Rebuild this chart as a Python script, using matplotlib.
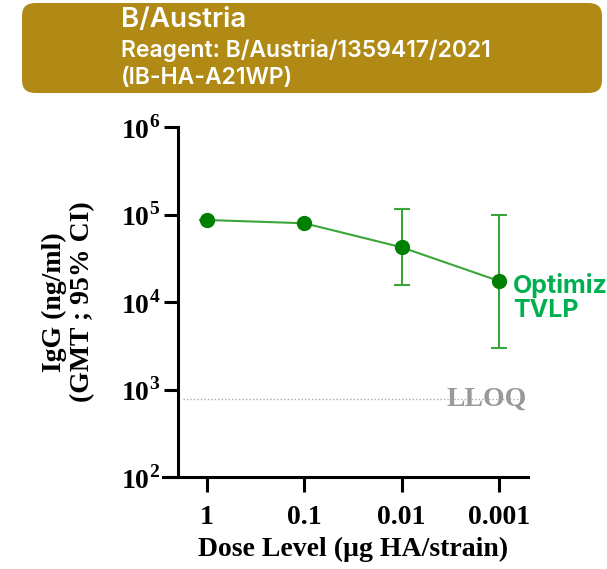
import numpy as np
import matplotlib.pyplot as plt
from matplotlib.patches import FancyBboxPatch

# Data
dose_labels = ['1', '0.1', '0.01', '0.001']
gmt = [86500, 79400, 42200, 17400]
ci_low = [86500, 79400, 15600, 3000]
ci_high = [86500, 79400, 115000, 99500]
lloq = 780
series_name = 'Optimiz\nTVLP'

plt.rcParams['mathtext.fontset'] = 'custom'
plt.rcParams['mathtext.rm'] = 'Liberation Serif:bold'
plt.rcParams['mathtext.bf'] = 'Liberation Serif:bold'

serif = {'family': 'Liberation Serif', 'weight': 'bold'}

fig = plt.figure(figsize=(6.07, 5.69), dpi=100)

# Header banner
box = FancyBboxPatch((22 / 607, 1 - 93 / 569), 580 / 607, 90 / 569,
                     boxstyle='round,pad=0,rounding_size=0.022',
                     transform=fig.transFigure, facecolor='#B08A14',
                     edgecolor='none')
fig.patches.append(box)
fig.text(121 / 607, 1 - 20 / 569, 'B/Austria', color='white', fontsize=20,
         family='Inter', weight='semibold', va='center')
fig.text(121 / 607, 1 - 51 / 569, 'Reagent: B/Austria/1359417/2021', color='white',
         fontsize=16.5, family='Inter', weight='semibold', va='center')
fig.text(121 / 607, 1 - 78 / 569, '(IB-HA-A21WP)', color='white',
         fontsize=16.5, family='Inter', weight='semibold', va='center')

ax = fig.add_axes([178 / 607, 1 - 477 / 569, 350 / 607, 350 / 569])
x = np.arange(len(dose_labels))
yerr = [np.array(gmt) - np.array(ci_low), np.array(ci_high) - np.array(gmt)]
ax.errorbar(x, gmt, yerr=yerr, color='#3AA63A', lw=1.5, capsize=6,
            capthick=1.5, elinewidth=1.5, zorder=2)
ax.plot(x, gmt, 'o', color='#008000', markersize=10, zorder=3)

ax.set_yscale('log')
ax.set_ylim(1e2, 1e6)
ax.set_xlim(-0.3, 3.3)
ax.set_yticks([1e2, 1e3, 1e4, 1e5, 1e6])
ax.set_yticklabels([r'$10^{%d}$' % k for k in range(2, 7)])
ax.yaxis.set_minor_locator(plt.NullLocator())
ax.set_xticks(x)
ax.set_xticklabels(dose_labels)
for lab in ax.get_xticklabels():
    lab.set_fontproperties(serif)
    lab.set_fontsize(20)
for lab in ax.get_yticklabels():
    lab.set_fontsize(20)

ax.spines['top'].set_visible(False)
ax.spines['right'].set_visible(False)
ax.spines['left'].set_linewidth(2.2)
ax.spines['bottom'].set_linewidth(2.2)
ax.spines['bottom'].set_bounds(-0.45, 3.3)
ax.tick_params(axis='both', width=2.2, length=10, direction='out', pad=3)
ax.tick_params(axis='x', length=11, pad=9)

ax.axhline(lloq, xmin=0.015, xmax=0.99, color='#AAAAAA', lw=1, ls=(0, (1, 1.5)), zorder=1)
ax.text(2.87, lloq, 'LLOQ', color='#999999', fontsize=20, va='center', ha='center',
        fontdict=serif, zorder=4)

ax.annotate(series_name, xy=(3, gmt[-1]), xytext=(10, 6), textcoords='offset points',
            color='#00B050', fontsize=18, family='Inter', weight='bold',
            va='top', ha='left', linespacing=1.1, annotation_clip=False)

ax.set_xlabel('Dose Level (µg HA/strain)', fontdict=serif, fontsize=20, labelpad=5)
ax.set_ylabel('IgG (ng/ml)\n(GMT ; 95% CI)', fontdict=serif, fontsize=20, labelpad=18)

fig.savefig('out.png', dpi=100)
